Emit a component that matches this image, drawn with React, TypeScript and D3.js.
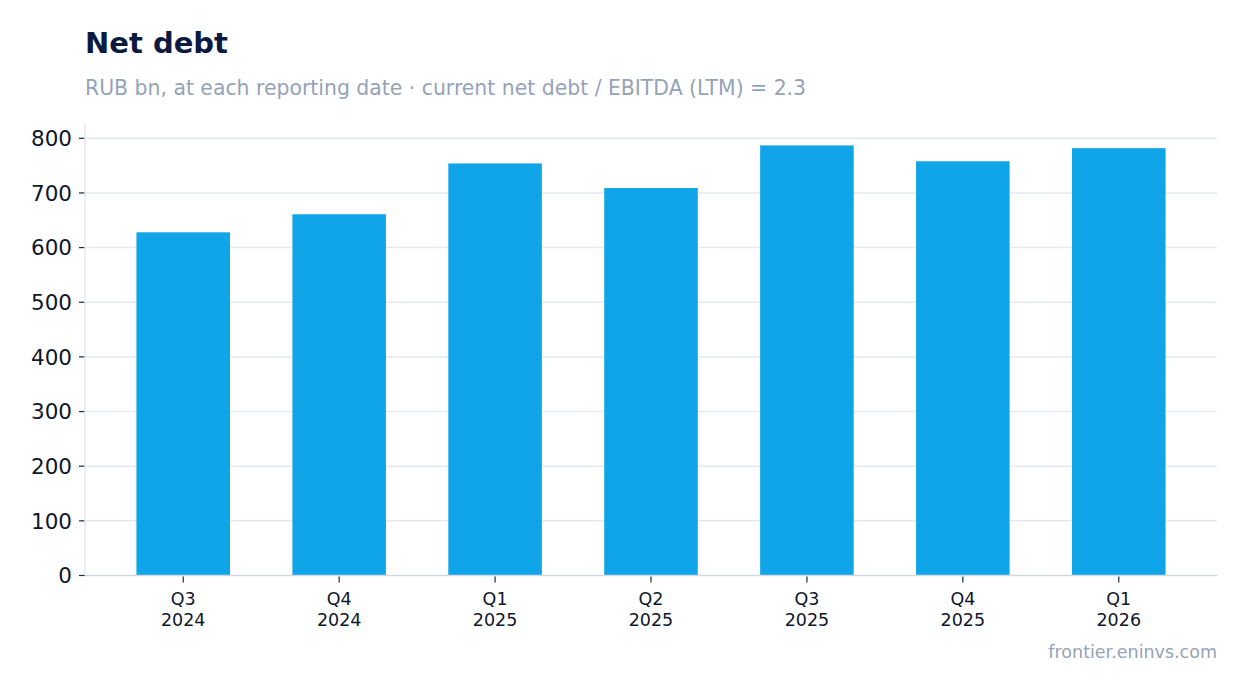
import React from "react";
import * as d3 from "d3";

const categories = ["Q3\n2024", "Q4\n2024", "Q1\n2025", "Q2\n2025", "Q3\n2025", "Q4\n2025", "Q1\n2026"];
const values = [628, 661, 754, 709, 787, 758, 782];
const yTicks = [0, 100, 200, 300, 400, 500, 600, 700, 800];

const W = 1247;
const H = 693;
const left = 85;
const right = 1217;
const top = 123;
const bottom = 575.5;

export default function App() {
  const x = d3.scaleBand<string>().domain(categories).range([left, right]).paddingInner(0.4).paddingOuter(0.33);
  const y = d3.scaleLinear().domain([0, 828]).range([bottom, top]);
  const font = "DejaVu Sans, sans-serif";
  return (
    <svg width={W} height={H} style={{ position: "absolute", left: 0, top: 0, background: "#fff" }} fontFamily={font}>
      <text x={85} y={53} fontSize={29} fontWeight="bold" fill="#0b1a40">Net debt</text>
      <text x={85} y={95} fontSize={20.4} fill="#94a3b8">RUB bn, at each reporting date · current net debt / EBITDA (LTM) = 2.3</text>
      {yTicks.map((t) => (
        <g key={t}>
          {t > 0 && <line x1={left} x2={right} y1={y(t)} y2={y(t)} stroke="#e5e9f0" strokeWidth={1.5} />}
          <line x1={left - 6} x2={left} y1={y(t)} y2={y(t)} stroke="#1e293b" strokeWidth={1.2} />
          <text x={left - 13} y={y(t)} dy="0.36em" textAnchor="end" fontSize={21.5} fill="#0f172a">{t}</text>
        </g>
      ))}
      <line x1={left} x2={left} y1={top} y2={bottom} stroke="#e5e9f0" strokeWidth={1.5} />
      {categories.map((c, i) => (
        <rect key={c} x={x(c)} width={x.bandwidth()} y={y(values[i])} height={bottom - y(values[i])} fill="#10a5e8" />
      ))}
      <line x1={left} x2={right} y1={bottom} y2={bottom} stroke="#d3d8e2" strokeWidth={1.5} />
      {categories.map((c) => {
        const cx = (x(c) as number) + x.bandwidth() / 2;
        const [l1, l2] = c.split("\n");
        return (
          <g key={c}>
            <line x1={cx} x2={cx} y1={bottom + 1} y2={bottom + 7} stroke="#1e293b" strokeWidth={1.2} />
            <text x={cx} y={605} textAnchor="middle" fontSize={17.5} fill="#0f172a">{l1}</text>
            <text x={cx} y={626} textAnchor="middle" fontSize={17.5} fill="#0f172a">{l2}</text>
          </g>
        );
      })}
      <text x={1217} y={658} textAnchor="end" fontSize={17.5} fill="#94a3b8">frontier.eninvs.com</text>
    </svg>
  );
}
